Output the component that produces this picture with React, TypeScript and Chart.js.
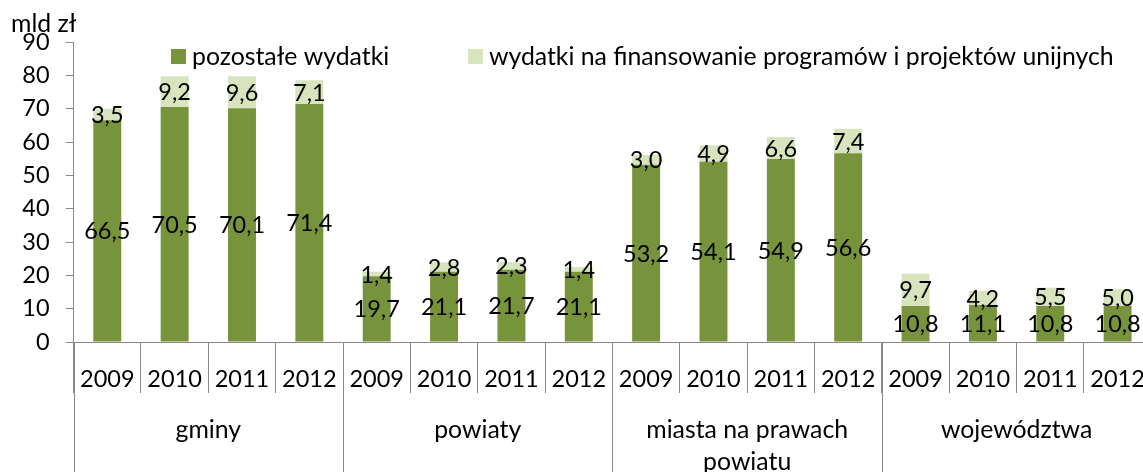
import React, { useEffect, useRef } from "react";
import { Chart, registerables } from "chart.js";

Chart.register(...registerables);

const years = ["2009", "2010", "2011", "2012"];
const groups: (string | string[])[] = ["gminy", "powiaty", ["miasta na prawach", "powiatu"], "województwa"];
const pozostale = [66.5, 70.5, 70.1, 71.4, 19.7, 21.1, 21.7, 21.1, 53.2, 54.1, 54.9, 56.6, 10.8, 11.1, 10.8, 10.8];
const unijne = [3.5, 9.2, 9.6, 7.1, 1.4, 2.8, 2.3, 1.4, 3.0, 4.9, 6.6, 7.4, 9.7, 4.2, 5.5, 5.0];
const seriesNames = ["pozostałe wydatki", "wydatki na finansowanie programów i projektów unijnych"];
const unitLabel = "mld zł";
const yTicksMax = 90;
const yStep = 10;

const DARK = "#77933C";
const LIGHT = "#D7E4BD";
const AXIS = "#898989";
const FONT = "Lato";
const FS_NUM = 23.5;
const FS_TXT = 24.8;

const labels: string[] = [];
groups.forEach(() => years.forEach((y) => labels.push(y)));

const fmt = (v: number) => v.toFixed(1).replace(".", ",");

const customPlugin = {
  id: "custom",
  afterDatasetsDraw(chart: any) {
    const ctx = chart.ctx;
    ctx.save();
    ctx.fillStyle = "#000";
    ctx.font = `${FS_NUM}px ${FONT}`;
    ctx.textAlign = "center";
    ctx.textBaseline = "middle";
    chart.data.datasets.forEach((ds: any, di: number) => {
      const meta = chart.getDatasetMeta(di);
      meta.data.forEach((bar: any, i: number) => {
        const p = bar.getProps(["x", "y", "base"], true);
        ctx.fillText(fmt(ds.data[i]), p.x, (p.y + p.base) / 2 + 1);
      });
    });
    ctx.restore();
  },
  afterDraw(chart: any) {
    const ctx = chart.ctx;
    const xs = chart.scales.x;
    const area = chart.chartArea;
    const n = labels.length;
    const step = (area.right - area.left) / n;
    ctx.save();
    ctx.strokeStyle = AXIS;
    ctx.lineWidth = 1;
    for (let g = 0; g <= groups.length; g++) {
      const x = Math.round(area.left + g * years.length * step) + 0.5;
      ctx.beginPath();
      ctx.moveTo(x, area.bottom);
      ctx.lineTo(x, 472);
      ctx.stroke();
    }
    ctx.fillStyle = "#000";
    ctx.font = `${FS_TXT}px ${FONT}`;
    ctx.textAlign = "center";
    ctx.textBaseline = "middle";
    groups.forEach((g, gi) => {
      const x0 = xs.getPixelForValue(gi * years.length);
      const x1 = xs.getPixelForValue(gi * years.length + years.length - 1);
      const cx = (x0 + x1) / 2;
      const lines = Array.isArray(g) ? g : [g];
      lines.forEach((l, li) => ctx.fillText(l, cx, 430 + li * 32));
    });
    ctx.textAlign = "left";
    ctx.fillText(unitLabel, 11, 24);
    const items = [
      { c: DARK, t: seriesNames[0], sx: 171, tx: 192 },
      { c: LIGHT, t: seriesNames[1], sx: 468, tx: 489 },
    ];
    items.forEach((it) => {
      ctx.fillStyle = it.c;
      ctx.fillRect(it.sx, 49, 15, 15);
      ctx.fillStyle = "#000";
      ctx.fillText(it.t, it.tx, 57);
    });
    ctx.restore();
  },
};

export default function App() {
  const ref = useRef<HTMLCanvasElement | null>(null);
  useEffect(() => {
    if (!ref.current) return;
    const chart = new Chart(ref.current, {
      type: "bar",
      data: {
        labels,
        datasets: [
          { label: seriesNames[0], data: pozostale, backgroundColor: DARK, categoryPercentage: 1, barPercentage: 0.415 },
          { label: seriesNames[1], data: unijne, backgroundColor: LIGHT, categoryPercentage: 1, barPercentage: 0.415 },
        ],
      },
      options: {
        responsive: false,
        animation: false,
        layout: { padding: { top: 42, right: 18.7, left: 0, bottom: 0 } },
        plugins: { legend: { display: false }, tooltip: { enabled: false } },
        scales: {
          x: {
            stacked: true,
            offset: true,
            grid: { display: true, drawOnChartArea: false, drawTicks: true, tickLength: 51, color: AXIS, offset: true },
            border: { display: true, color: AXIS },
            ticks: { color: "#000", font: { family: FONT, size: FS_NUM }, padding: -28, maxRotation: 0, autoSkip: false },
            afterFit: (s: any) => { s.height = 130; },
          },
          y: {
            stacked: true,
            min: 0,
            max: yTicksMax,
            ticks: { stepSize: yStep, color: "#000", font: { family: FONT, size: FS_NUM }, padding: 16 },
            grid: { display: true, drawOnChartArea: false, drawTicks: true, tickLength: 8, color: AXIS },
            border: { display: true, color: AXIS },
            afterFit: (s: any) => { s.width = 73.6; },
          },
        },
      },
      plugins: [customPlugin],
    });
    return () => chart.destroy();
  }, []);
  return (
    <div style={{ position: "fixed", left: 0, top: 0, width: 1143, height: 472, overflow: "hidden", background: "#fff" }}>
      <canvas ref={ref} width={1170} height={472} style={{ width: 1170, height: 472, display: "block" }} />
    </div>
  );
}
